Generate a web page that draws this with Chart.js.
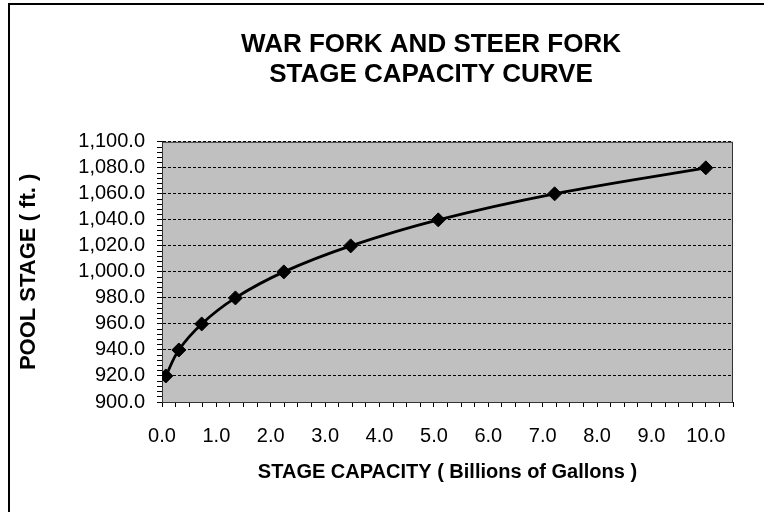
<!DOCTYPE html>
<html>
<head>
<meta charset="utf-8">
<script src="https://cdn.jsdelivr.net/npm/chart.js@4"></script>
<style>
  html, body { margin: 0; padding: 0; background: #fff; overflow: hidden; }
  #wrap { width: 853px; height: 512px; }
</style>
</head>
<body>
<div id="wrap"><canvas id="curve" width="853" height="512"></canvas></div>
<script>
const capacity = [0.07, 0.31, 0.73, 1.35, 2.24, 3.47, 5.08, 7.22, 10.0];
const stage = [920, 940, 960, 980, 1000, 1020, 1040, 1060, 1080];
const titleLines = ['WAR FORK AND STEER FORK', 'STAGE CAPACITY CURVE'];
const xTitle = 'STAGE CAPACITY ( Billions of Gallons )';
const yTitle = 'POOL STAGE ( ft. )';

const font = 'Liberation Sans, Arial, sans-serif';

const points = capacity.map((c, i) => ({ x: c, y: stage[i] }));

// gray plot area, frame around it and the outer chart border
const frame = {
    id: 'frame',
    beforeDraw(chart) {
        const { ctx, chartArea: a } = chart;
        ctx.save();
        ctx.fillStyle = '#fff';
        ctx.fillRect(0, 0, chart.width, chart.height);
        ctx.strokeStyle = '#000';
        ctx.lineWidth = 2;
        ctx.strokeRect(9, 4, chart.width + 20, chart.height + 20);
        ctx.fillStyle = '#c0c0c0';
        ctx.fillRect(a.left, a.top, a.right - a.left, a.bottom - a.top);
        ctx.restore();
    },
    beforeDatasetsDraw(chart) {
        const { ctx, chartArea: a } = chart;
        ctx.save();
        ctx.strokeStyle = '#333';
        ctx.lineWidth = 1;
        ctx.strokeRect(a.left + 0.5, a.top + 0.5, a.right - a.left - 1, a.bottom - a.top);
        ctx.restore();
    }
};

const config = {
    type: 'line',
    data: {
        datasets: [{
            label: 'Stage',
            data: points,
            borderColor: '#000',
            backgroundColor: '#000',
            borderWidth: 2.8,
            tension: 0.4,
            pointStyle: 'rectRot',
            pointRadius: 7,
            pointBorderWidth: 1,
            pointBackgroundColor: '#000',
            pointBorderColor: '#000',
            fill: false
        }]
    },
    options: {
        responsive: false,
        animation: false,
        devicePixelRatio: 1,
        layout: { padding: { left: 9, top: 4, right: 0, bottom: 0 } },
        plugins: {
            legend: { display: false },
            tooltip: { enabled: false },
            title: {
                display: true,
                text: titleLines,
                color: '#000',
                font: { family: font, size: 26, weight: 'bold', lineHeight: 1.15 },
                padding: { top: 26, bottom: 52 }
            }
        },
        scales: {
            x: {
                type: 'linear',
                min: 0,
                max: 10.5,
                afterFit: s => { s.height = 110; },
                ticks: {
                    stepSize: 0.25,
                    autoSkip: false,
                    maxRotation: 0,
                    minRotation: 0,
                    padding: 17,
                    color: '#000',
                    font: { family: font, size: 20 },
                    callback: v => Number.isInteger(v) ? v.toFixed(1) : ''
                },
                grid: {
                    drawOnChartArea: false,
                    tickLength: 5,
                    tickColor: '#000'
                },
                border: { display: true, color: '#000', width: 1 },
                title: {
                    display: true,
                    text: xTitle,
                    color: '#000',
                    font: { family: font, size: 20, weight: 'bold' },
                    padding: { top: 0, bottom: 28 }
                }
            },
            y: {
                type: 'linear',
                min: 900,
                max: 1100,
                afterFit: s => { s.width = 153; },
                ticks: {
                    stepSize: 4,
                    autoSkip: false,
                    padding: 12,
                    color: '#000',
                    font: { family: font, size: 20 },
                    callback: v => v % 20 === 0
                        ? v.toLocaleString('en-US', { minimumFractionDigits: 1, maximumFractionDigits: 1 })
                        : ''
                },
                grid: {
                    color: c => (c.tick && c.tick.value % 20 === 0) ? '#000' : 'rgba(0,0,0,0)',
                    tickColor: '#000',
                    tickLength: 5,
                    lineWidth: 1
                },
                border: { display: true, color: '#000', width: 1, dash: [3, 2] },
                title: {
                    display: true,
                    text: yTitle,
                    color: '#000',
                    font: { family: font, size: 22, weight: 'bold' },
                    padding: { top: 7, bottom: 0 }
                }
            },
            // empty space on the right (the original chart continues past the crop)
            side: {
                type: 'linear',
                axis: 'y',
                position: 'right',
                display: true,
                afterFit: s => { s.width = 120; },
                ticks: { display: false },
                grid: { display: false },
                border: { display: false }
            }
        }
    },
    plugins: [frame]
};

new Chart(document.getElementById('curve').getContext('2d'), config);
</script>
</body>
</html>
